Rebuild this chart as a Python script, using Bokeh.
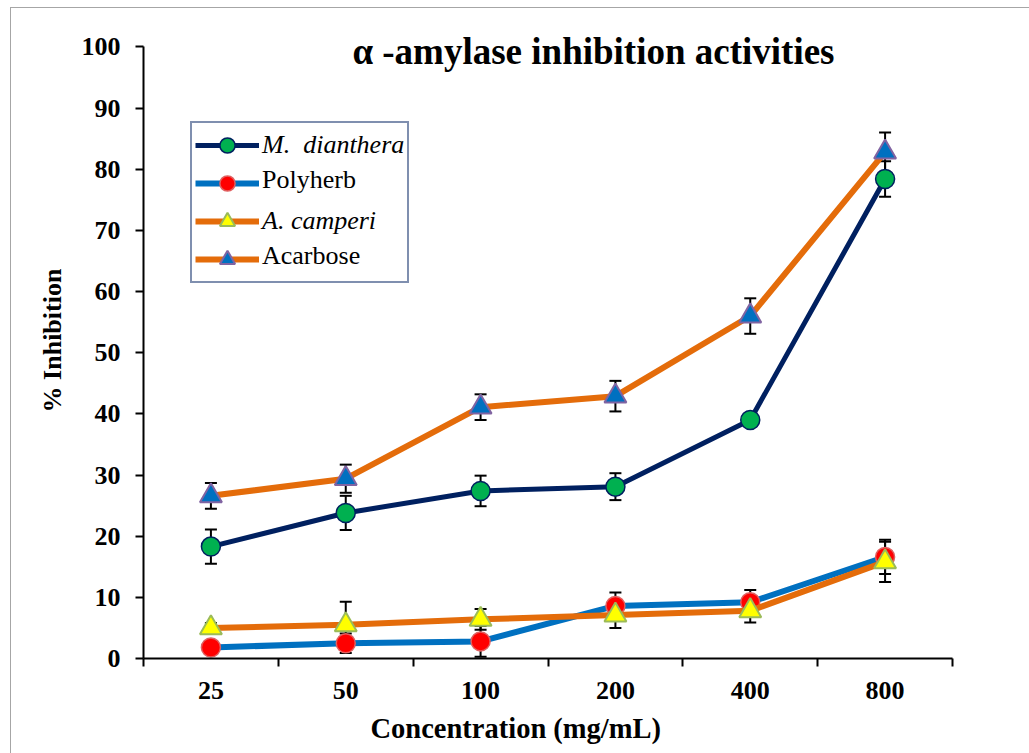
from bokeh.plotting import figure
from bokeh.models import (ColumnDataSource, Whisker, TeeHead, Legend, LegendItem,
                          FixedTicker, Label, Range1d, Title)
from bokeh.embed import file_html
from bokeh.resources import INLINE

# ---------------- data ----------------
concentrations = ["25", "50", "100", "200", "400", "800"]

m_dianthera = [18.3, 23.8, 27.4, 28.1, 39.0, 78.4]
m_dianthera_err = [2.8, 2.8, 2.5, 2.2, 1.1, 2.9]

polyherb = [1.8, 2.5, 2.8, 8.6, 9.2, 16.6]
polyherb_err = [0.8, 1.6, 2.5, 2.2, 2.0, 2.8]

a_camperi = [5.0, 5.5, 6.4, 7.1, 7.8, 15.8]
a_camperi_err = [0.8, 3.8, 1.7, 2.1, 1.9, 3.3]

acarbose = [26.6, 29.4, 41.1, 42.9, 56.0, 82.8]
acarbose_err = [2.1, 2.3, 2.1, 2.5, 2.9, 3.2]

y_ticks = list(range(0, 101, 10))

FONT = "Liberation Serif"

# category positions through a numeric scale (one unit per category)
xpos = [i + 0.5 for i in range(len(concentrations))]

p = figure(width=1029, height=753, output_backend="svg", toolbar_location=None,
           x_range=Range1d(0, len(concentrations)), y_range=Range1d(0, 104),
           min_border_left=143, min_border_right=77, min_border_top=22, min_border_bottom=94)
p.stylesheets = [":host::after{content:'';position:absolute;left:10px;top:7px;"
                 "width:1019px;height:746px;border-left:1px solid #a6a6a6;"
                 "border-top:1px solid #a6a6a6;pointer-events:none;}"]
p.outline_line_color = None
p.xgrid.visible = False
p.ygrid.visible = False
p.background_fill_color = "white"
p.border_fill_color = "white"

# axes
p.xaxis.ticker = FixedTicker(ticks=xpos, minor_ticks=list(range(0, len(concentrations) + 1)))
p.xaxis.major_label_overrides = {x: c for x, c in zip(xpos, concentrations)}
p.xaxis.major_tick_out = 0
p.xaxis.major_tick_in = 0
p.xaxis.minor_tick_out = 8
p.xaxis.minor_tick_in = 0
p.xaxis.minor_tick_line_color = "black"
p.xaxis.minor_tick_line_width = 2
p.xaxis.major_label_standoff = 15

p.yaxis.ticker = FixedTicker(ticks=y_ticks)
p.yaxis.bounds = (0, 100)
p.yaxis.minor_tick_line_color = None
p.yaxis.major_tick_out = 8
p.yaxis.major_tick_in = 0
p.yaxis.major_tick_line_width = 2
p.yaxis.major_label_standoff = 15
p.yaxis.axis_label = "% Inhibition"
p.yaxis.axis_label_standoff = 12

for ax in (p.xaxis[0], p.yaxis[0]):
    ax.axis_line_color = "black"
    ax.axis_line_width = 2
    ax.major_tick_line_color = "black"
    ax.major_label_text_font = FONT
    ax.major_label_text_font_style = "bold"
    ax.major_label_text_font_size = "26px"
    ax.major_label_text_color = "black"
    ax.axis_label_text_font = FONT
    ax.axis_label_text_font_style = "bold"
    ax.axis_label_text_font_size = "26px"
    ax.axis_label_text_color = "black"

series = [
    ("M.  dianthera", m_dianthera, m_dianthera_err, "#002060", 5, "circle", "#00b050", "#002060", 19, 1.5),
    ("Polyherb", polyherb, polyherb_err, "#0070c0", 6, "circle", "#ff0000", "#e06060", 19, 1.5),
    ("A. camperi", a_camperi, a_camperi_err, "#e46c0a", 6, "triangle", "#ffff00", "#9bbb59", 22, 2),
    ("Acarbose", acarbose, acarbose_err, "#e46c0a", 6, "triangle", "#0070c0", "#8064a2", 22, 2),
]

# invisible renderer used by the text-only (upright) legend overlay
dummy = p.line(x=[], y=[], line_alpha=0)

items_italic = []
items_normal = []
for name, ys, err, lc, lw, mk, fc, oc, ms, olw in series:
    src = ColumnDataSource(dict(x=xpos, y=ys,
                                lo=[v - e for v, e in zip(ys, err)],
                                hi=[v + e for v, e in zip(ys, err)]))
    ln = p.line("x", "y", source=src, line_color=lc, line_width=lw)
    wh = Whisker(source=src, base="x", lower="lo", upper="hi",
                 line_color="black", line_width=2,
                 upper_head=TeeHead(size=12, line_width=2, line_color="black"),
                 lower_head=TeeHead(size=12, line_width=2, line_color="black"))
    p.add_layout(wh)
    sc = p.scatter("x", "y", source=src, marker=mk, size=ms, fill_color=fc,
                   line_color=oc, line_width=olw)
    italic = name in ("M.  dianthera", "A. camperi")
    items_italic.append(LegendItem(label=name if italic else " ", renderers=[ln, sc]))
    items_normal.append(LegendItem(label=" " if italic else name, renderers=[dummy]))

PAD = 3
GW = 64
GH = 38

leg_a = Legend(items=items_italic, location=(47, 375), orientation="vertical",
               label_text_font=FONT, label_text_font_size="26px",
               label_text_font_style="italic", label_text_color="black",
               glyph_width=GW, glyph_height=GH, label_height=GH,
               label_standoff=3, spacing=-1, padding=PAD, margin=0,
               border_line_color="#002060", border_line_width=2,
               background_fill_color="white", background_fill_alpha=1)
leg_b = Legend(items=items_normal, location=(52, 383), orientation="vertical",
               label_text_font=FONT, label_text_font_size="26px",
               label_text_font_style="normal", label_text_color="black",
               glyph_width=1, glyph_height=GH, label_height=GH,
               label_standoff=GW + 3 - 1, spacing=-1, padding=PAD, margin=0,
               border_line_color=None, background_fill_alpha=0)
p.add_layout(leg_a, "center")
p.add_layout(leg_b, "center")

p.add_layout(Label(x=3.337, y=99.2, text="\u03b1 -amylase inhibition activities",
                   text_font=FONT, text_font_style="bold", text_font_size="37px",
                   text_align="center", text_baseline="middle", text_color="black"))

p.add_layout(Title(text="Concentration (mg/mL)", align="left", offset=227, standoff=19,
                   text_font=FONT, text_font_style="bold", text_font_size="28.5px",
                   text_color="black"), "below")

open("out.html", "w").write(file_html(p, INLINE))
